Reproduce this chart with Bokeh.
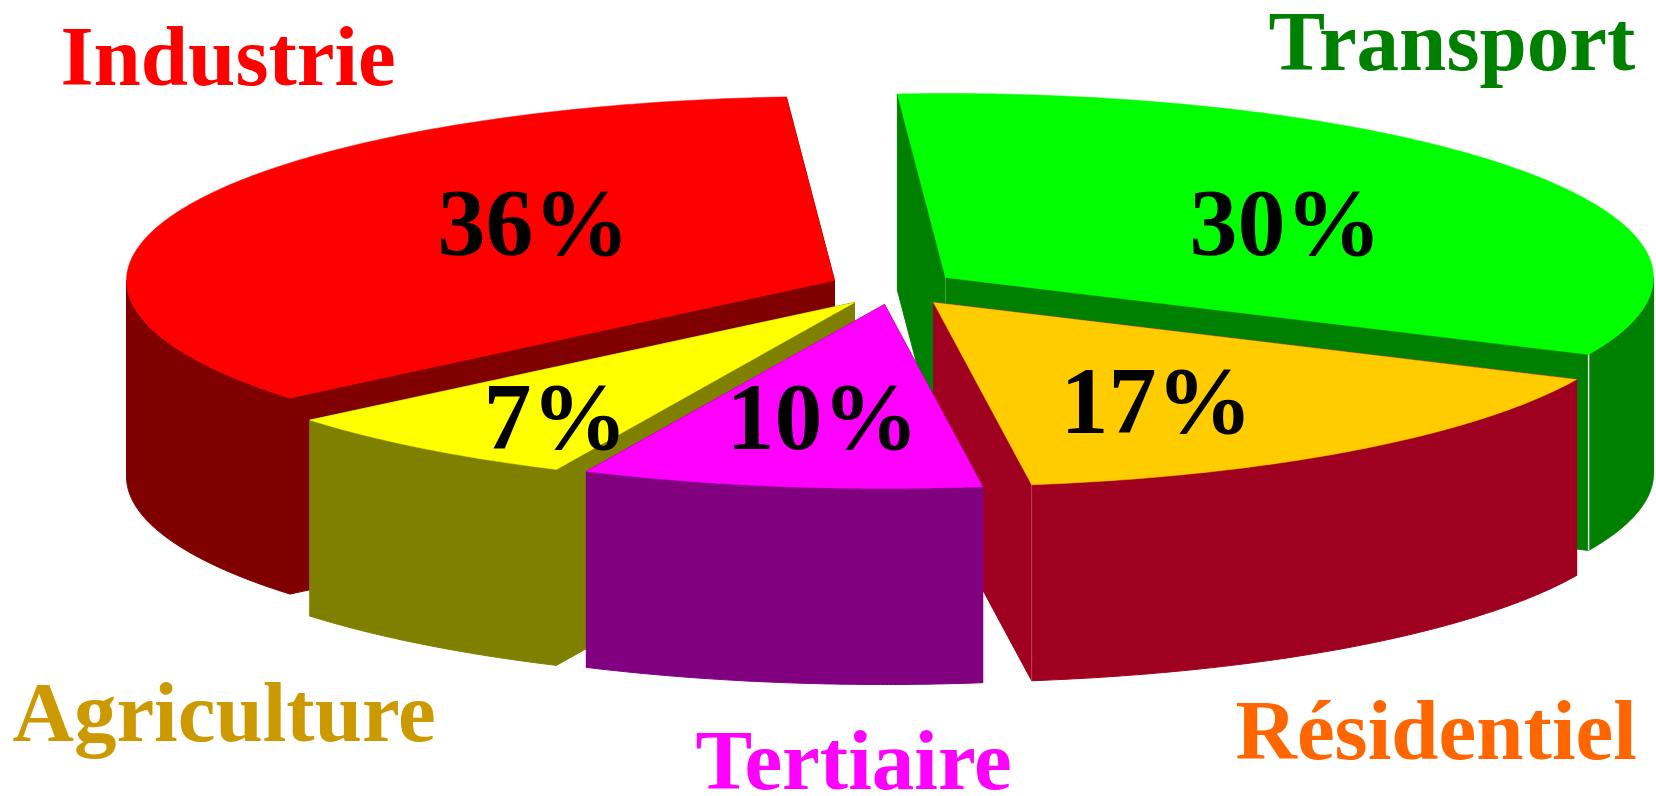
import numpy as np
from bokeh.plotting import figure
from bokeh.models import Range1d, ColumnDataSource
from bokeh.core.properties import value
from bokeh.embed import file_html
from bokeh.resources import INLINE

# ---- data -----
sectors = ["Industrie", "Transport", "Résidentiel", "Tertiaire", "Agriculture"]
printed_pct = ["36%", "30%", "17%", "10%", "7%"]
# angular share of the pie as it is actually drawn (in % of the circle), clockwise
drawn_share = [34.95, 32.95, 15.92, 9.13, 7.05]

# ---- styles -----
top_col = ["#FF0000", "#00FF00", "#FFCC00", "#FF00FF", "#FFFF00"]
side_col = ["#800000", "#008000", "#A00020", "#800080", "#808000"]
name_col = ["#FF0000", "#008000", "#FF6600", "#FF00FF", "#CC9900"]
seam_col = ["#C04040", "#40A040", "#C04060", "#800080", "#A0A040"]
hub_x = [834, 945, 933, 884, 854]
hub_y = [280, 277, 302, 304, 302]
name_x = [60, 1268, 1235, 695, 12]
name_y = [55, 40, 729, 759, 711]
pct_x = [437, 1189, 1060, 726, 483]
pct_y = [222, 222, 400, 416, 416]
draw_order = [1, 2, 0, 4, 3]
RX, RY, DEPTH = 708, 184, 196
START = -3.9  # degrees clockwise from 12 o'clock where Industrie ends / Transport starts

p = figure(width=1656, height=796, output_backend="svg", toolbar_location=None,
           x_range=Range1d(0, 1656), y_range=Range1d(796, 0),
           min_border=0, outline_line_color=None, background_fill_color="white")
p.axis.visible = False
p.grid.visible = False

# angular limits of every sector
shares = np.array(drawn_share) / sum(drawn_share) * 360
a_start = {1: START}
a_start[2] = a_start[1] + shares[1]
a_start[3] = a_start[2] + shares[2]
a_start[4] = a_start[3] + shares[3]
a_start[0] = a_start[4] + shares[4]
a_end = {i: a_start[i] + shares[i] for i in range(5)}


def rim(i, t):
    th = np.radians(t)
    return hub_x[i] + RX * np.sin(th), hub_y[i] - RY * np.cos(th)


def quad(xa, ya, xb, yb):
    return [xa, xb, xb, xa], [ya, yb, yb + DEPTH, ya + DEPTH]


for i in draw_order:
    a, b = a_start[i], a_end[i]
    ts = np.linspace(a, b, 160)
    ax, ay = rim(i, ts)

    # cut walls
    for t in (a, b):
        ex, ey = rim(i, t)
        qx, qy = quad(hub_x[i], hub_y[i], ex, ey)
        p.patch(qx, qy, fill_color=side_col[i], line_color=side_col[i], line_width=1)

    # visible outer wall: the part of the rim that faces the viewer (90..270 deg)
    lo, hi = max(a, 90), min(b, 270)
    if hi > lo:
        tw = np.linspace(lo, hi, 100)
        wx, wy = rim(i, tw)
        p.patch(list(wx) + list(wx[::-1]), list(wy) + list(wy[::-1] + DEPTH),
                fill_color=side_col[i], line_color=side_col[i], line_width=1)

    # thin seams down the front edges
    if i in (1, 2):
        ex, ey = rim(i, b)
        p.segment([ex], [ey], [ex], [ey + DEPTH], line_color="#E4E4E4" if i == 1 else seam_col[i],
                  line_width=1.5 if i == 1 else 1)
    if i == 1:
        p.segment([hub_x[i]], [hub_y[i]], [hub_x[i]], [hub_y[i] + 27],
                  line_color=seam_col[i], line_width=1)

    # top face
    p.patch([hub_x[i]] + list(ax), [hub_y[i]] + list(ay),
            fill_color=top_col[i], line_color=top_col[i], line_width=0.5)

names = ColumnDataSource(dict(x=name_x, y=name_y, t=sectors, c=name_col))
p.text("x", "y", text="t", source=names, text_color="c",
       text_font=value("Liberation Serif"), text_font_style="bold",
       text_font_size="85px", text_baseline="alphabetic", text_align="left")

pcts = ColumnDataSource(dict(x=pct_x, y=pct_y, t=printed_pct))
p.text("x", "y", text="t", source=pcts, text_color="#000000",
       text_font=value("Liberation Serif"), text_font_style="bold",
       text_font_size="96px", text_baseline="alphabetic", text_align="left")

open("out.html", "w").write(file_html(p, INLINE))
